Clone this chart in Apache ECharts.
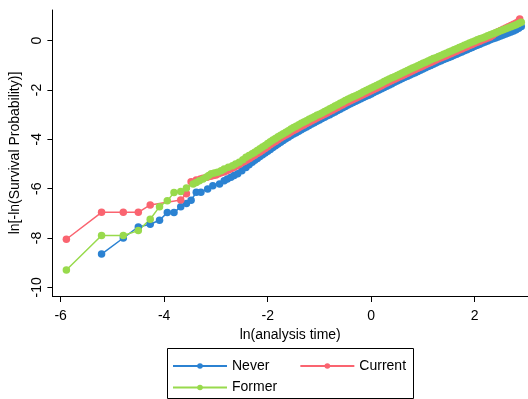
<!DOCTYPE html>
<html>
<head>
<meta charset="utf-8">
<script src="https://cdn.jsdelivr.net/npm/echarts@6/dist/echarts.min.js"></script>
<style>
  html, body { margin: 0; padding: 0; background: #fff; }
  #chart { width: 528px; height: 399px; }
</style>
</head>
<body>
<div id="chart"></div>
<script>
// Early failure times (sparse) for each smoking group: ln(t), ln[-ln(S)]
const neverLeadX = [-5.21, -4.79, -4.50, -4.27, -4.09, -3.94, -3.81, -3.68, -3.57, -3.48,
  -3.38, -3.29, -3.16, -3.06, -2.93, -2.84, -2.78, -2.71, -2.65, -2.58, -2.50, -2.42, -2.36, -2.30];
const neverLeadY = [-8.65, -8.00, -7.55, -7.44, -7.28, -6.97, -6.97, -6.73, -6.60, -6.47,
  -6.15, -6.15, -6.01, -5.88, -5.81, -5.68, -5.61, -5.54, -5.47, -5.40, -5.27, -5.14, -5.03, -4.93];

const currentLeadX = [-5.89, -5.21, -4.79, -4.50, -4.27, -3.68, -3.57, -3.48,
  -3.38, -3.30, -3.25, -3.17, -3.10, -3.05, -3.00, -2.95, -2.90, -2.85, -2.80, -2.75,
  -2.70, -2.65, -2.60, -2.55, -2.50, -2.45, -2.40, -2.35, -2.30];
const currentLeadY = [-8.05, -6.96, -6.96, -6.96, -6.66, -6.46, -6.21, -5.72,
  -5.65, -5.61, -5.58, -5.54, -5.50, -5.47, -5.45, -5.40, -5.36, -5.32, -5.28, -5.23,
  -5.18, -5.13, -5.08, -5.02, -4.95, -4.90, -4.84, -4.78, -4.71];

const formerLeadX = [-5.89, -5.21, -4.79, -4.50, -4.27, -4.09, -3.94, -3.81, -3.68, -3.57,
  -3.44, -3.38, -3.32, -3.25, -3.19, -3.14, -3.09, -3.03, -2.97, -2.90,
  -2.84, -2.76, -2.68, -2.62, -2.55, -2.48, -2.42, -2.36, -2.30];
const formerLeadY = [-9.30, -7.90, -7.90, -7.70, -7.24, -6.73, -6.49, -6.16, -6.12, -5.97,
  -5.81, -5.75, -5.68, -5.61, -5.54, -5.47, -5.40, -5.37, -5.34, -5.27,
  -5.20, -5.13, -5.07, -5.00, -4.93, -4.83, -4.73, -4.66, -4.59];

// Dense part of the follow-up: shared ln(t) grid and each group's ln[-ln(S)]
const denseX = [-2.25, -2.20, -2.15, -2.10, -2.05, -2.00, -1.95, -1.90, -1.85, -1.80,
  -1.75, -1.70, -1.65, -1.60, -1.55, -1.50, -1.45, -1.40, -1.35, -1.30,
  -1.25, -1.20, -1.15, -1.10, -1.05, -1.00, -0.95, -0.90, -0.85, -0.80,
  -0.75, -0.70, -0.65, -0.60, -0.55, -0.50, -0.45, -0.40, -0.35, -0.30,
  -0.25, -0.20, -0.15, -0.10, -0.05, 0.00, 0.05, 0.10, 0.15, 0.20,
  0.25, 0.30, 0.35, 0.40, 0.45, 0.50, 0.55, 0.60, 0.65, 0.70,
  0.75, 0.80, 0.85, 0.90, 0.95, 1.00, 1.05, 1.10, 1.15, 1.20,
  1.25, 1.30, 1.35, 1.40, 1.45, 1.50, 1.55, 1.60, 1.65, 1.70,
  1.75, 1.80, 1.85, 1.90, 1.95, 2.00, 2.05, 2.10, 2.15, 2.20,
  2.25, 2.30, 2.35, 2.40, 2.45, 2.50, 2.55, 2.60, 2.65, 2.70,
  2.75, 2.80, 2.85];
const neverDenseY = [-4.85, -4.78, -4.70, -4.63, -4.56, -4.48, -4.41, -4.33, -4.26, -4.19,
  -4.12, -4.05, -3.98, -3.92, -3.85, -3.79, -3.73, -3.67, -3.61, -3.55,
  -3.50, -3.44, -3.38, -3.33, -3.27, -3.22, -3.16, -3.11, -3.05, -3.00,
  -2.94, -2.89, -2.83, -2.78, -2.72, -2.67, -2.61, -2.56, -2.51, -2.46,
  -2.41, -2.36, -2.31, -2.26, -2.21, -2.16, -2.10, -2.05, -2.00, -1.95,
  -1.90, -1.85, -1.80, -1.75, -1.69, -1.64, -1.59, -1.54, -1.49, -1.44,
  -1.39, -1.34, -1.30, -1.25, -1.20, -1.15, -1.10, -1.05, -1.01, -0.96,
  -0.91, -0.86, -0.82, -0.77, -0.73, -0.68, -0.64, -0.59, -0.55, -0.50,
  -0.46, -0.41, -0.37, -0.32, -0.28, -0.23, -0.19, -0.15, -0.10, -0.06,
  -0.02, 0.03, 0.07, 0.11, 0.15, 0.19, 0.23, 0.27, 0.31, 0.35,
  0.39, 0.44, 0.50];
const currentDenseY = [-4.65, -4.58, -4.51, -4.44, -4.37, -4.30, -4.22, -4.15, -4.09, -4.02,
  -3.95, -3.89, -3.83, -3.77, -3.70, -3.64, -3.59, -3.53, -3.47, -3.42,
  -3.36, -3.31, -3.25, -3.20, -3.14, -3.09, -3.04, -2.98, -2.93, -2.87,
  -2.82, -2.76, -2.71, -2.65, -2.60, -2.54, -2.49, -2.44, -2.39, -2.34,
  -2.29, -2.24, -2.18, -2.13, -2.08, -2.03, -1.98, -1.93, -1.88, -1.83,
  -1.77, -1.72, -1.67, -1.62, -1.57, -1.52, -1.47, -1.42, -1.37, -1.32,
  -1.27, -1.22, -1.17, -1.12, -1.08, -1.03, -0.98, -0.93, -0.89, -0.84,
  -0.79, -0.74, -0.70, -0.65, -0.61, -0.56, -0.52, -0.47, -0.43, -0.38,
  -0.34, -0.29, -0.25, -0.20, -0.16, -0.11, -0.07, -0.03, 0.02, 0.06,
  0.11, 0.15, 0.22, 0.30, 0.36, 0.41, 0.46, 0.51, 0.56, 0.61,
  0.66, 0.71, 0.78];
const formerDenseY = [-4.52, -4.45, -4.38, -4.31, -4.25, -4.17, -4.10, -4.03, -3.97, -3.90,
  -3.84, -3.77, -3.71, -3.65, -3.58, -3.52, -3.47, -3.41, -3.35, -3.30,
  -3.25, -3.19, -3.14, -3.09, -3.03, -2.98, -2.93, -2.87, -2.82, -2.76,
  -2.71, -2.65, -2.60, -2.54, -2.49, -2.43, -2.38, -2.33, -2.28, -2.23,
  -2.18, -2.13, -2.07, -2.02, -1.97, -1.92, -1.87, -1.82, -1.77, -1.72,
  -1.66, -1.61, -1.56, -1.51, -1.46, -1.41, -1.36, -1.31, -1.26, -1.21,
  -1.16, -1.11, -1.07, -1.02, -0.97, -0.92, -0.88, -0.83, -0.78, -0.73,
  -0.69, -0.64, -0.60, -0.55, -0.51, -0.46, -0.42, -0.37, -0.33, -0.28,
  -0.24, -0.19, -0.15, -0.10, -0.06, -0.02, 0.03, 0.07, 0.11, 0.15,
  0.20, 0.24, 0.28, 0.32, 0.36, 0.40, 0.44, 0.48, 0.52, 0.56,
  0.60, 0.64, 0.69];

// Last observed failure time of each group
const neverTail = [2.90, 0.57];
const currentTail = [2.87, 0.88];
const formerTail = [2.90, 0.74];

const xTicks = [-6, -4, -2, 0, 2];
const yTicks = [-10, -8, -6, -4, -2, 0];

const groupNames = ['Never', 'Current', 'Former'];
const groupColors = ['#2B82D2', '#FA6470', '#98DA4C'];

const FONT = 'Liberation Sans, Arial, sans-serif';

function buildSeries(leadX, leadY, denseY, tail) {
  const pts = leadX.map((x, i) => [x, leadY[i]]);
  denseX.forEach((x, i) => pts.push([x, denseY[i]]));
  pts.push(tail);
  return pts;
}

const seriesData = [
  buildSeries(neverLeadX, neverLeadY, neverDenseY, neverTail),
  buildSeries(currentLeadX, currentLeadY, currentDenseY, currentTail),
  buildSeries(formerLeadX, formerLeadY, formerDenseY, formerTail)
];

const chart = echarts.init(document.getElementById('chart'), null, { renderer: 'canvas' });

chart.setOption({
  animation: false,
  backgroundColor: '#fff',
  grid: { left: 48, top: 10, right: 0, bottom: 103, containLabel: false },
  xAxis: {
    type: 'value',
    min: -6.16, max: 3.03,
    name: 'ln(analysis time)',
    nameLocation: 'middle',
    nameGap: 25,
    nameTextStyle: { fontFamily: FONT, fontSize: 14, color: '#000' },
    axisLine: { show: true, onZero: false, lineStyle: { color: '#000', width: 1 } },
    axisTick: { show: true, length: 6, inside: false, customValues: xTicks, lineStyle: { color: '#000' } },
    axisLabel: { customValues: xTicks, margin: 13, fontFamily: FONT, fontSize: 14, color: '#000' },
    splitLine: { show: false }
  },
  yAxis: {
    type: 'value',
    min: -10.35, max: 1.24,
    name: 'ln[-ln(Survival Probability)]',
    nameLocation: 'middle',
    nameGap: 21,
    nameRotate: 90,
    nameTextStyle: { fontFamily: FONT, fontSize: 14, color: '#000' },
    axisLine: { show: true, onZero: false, lineStyle: { color: '#000', width: 1 } },
    axisTick: { show: true, length: 5, inside: false, customValues: yTicks, lineStyle: { color: '#000' } },
    axisLabel: { customValues: yTicks, rotate: 90, margin: 8.5, fontFamily: FONT, fontSize: 14, color: '#000' },
    splitLine: { show: false }
  },
  legend: [
    {
      data: ['Never', 'Current'],
      left: 172, top: 359,
      orient: 'horizontal',
      padding: 0,
      itemWidth: 54, itemHeight: 7, itemGap: 30,
      textStyle: { fontFamily: FONT, fontSize: 14, color: '#000' }
    },
    {
      data: ['Former'],
      left: 172, top: 380.5,
      orient: 'horizontal',
      padding: 0,
      itemWidth: 54, itemHeight: 7,
      textStyle: { fontFamily: FONT, fontSize: 14, color: '#000' }
    }
  ],
  graphic: [{
    type: 'rect',
    shape: { x: 167.5, y: 348.5, width: 246, height: 50 },
    style: { fill: 'none', stroke: '#000', lineWidth: 1 },
    silent: true
  }],
  series: groupNames.map((name, i) => ({
    name: name,
    type: 'line',
    data: seriesData[i],
    symbol: 'circle',
    symbolSize: 7.5,
    showAllSymbol: true,
    itemStyle: { color: groupColors[i] },
    lineStyle: { color: groupColors[i], width: 1.5 },
    emphasis: { disabled: true }
  }))
});
</script>
</body>
</html>
